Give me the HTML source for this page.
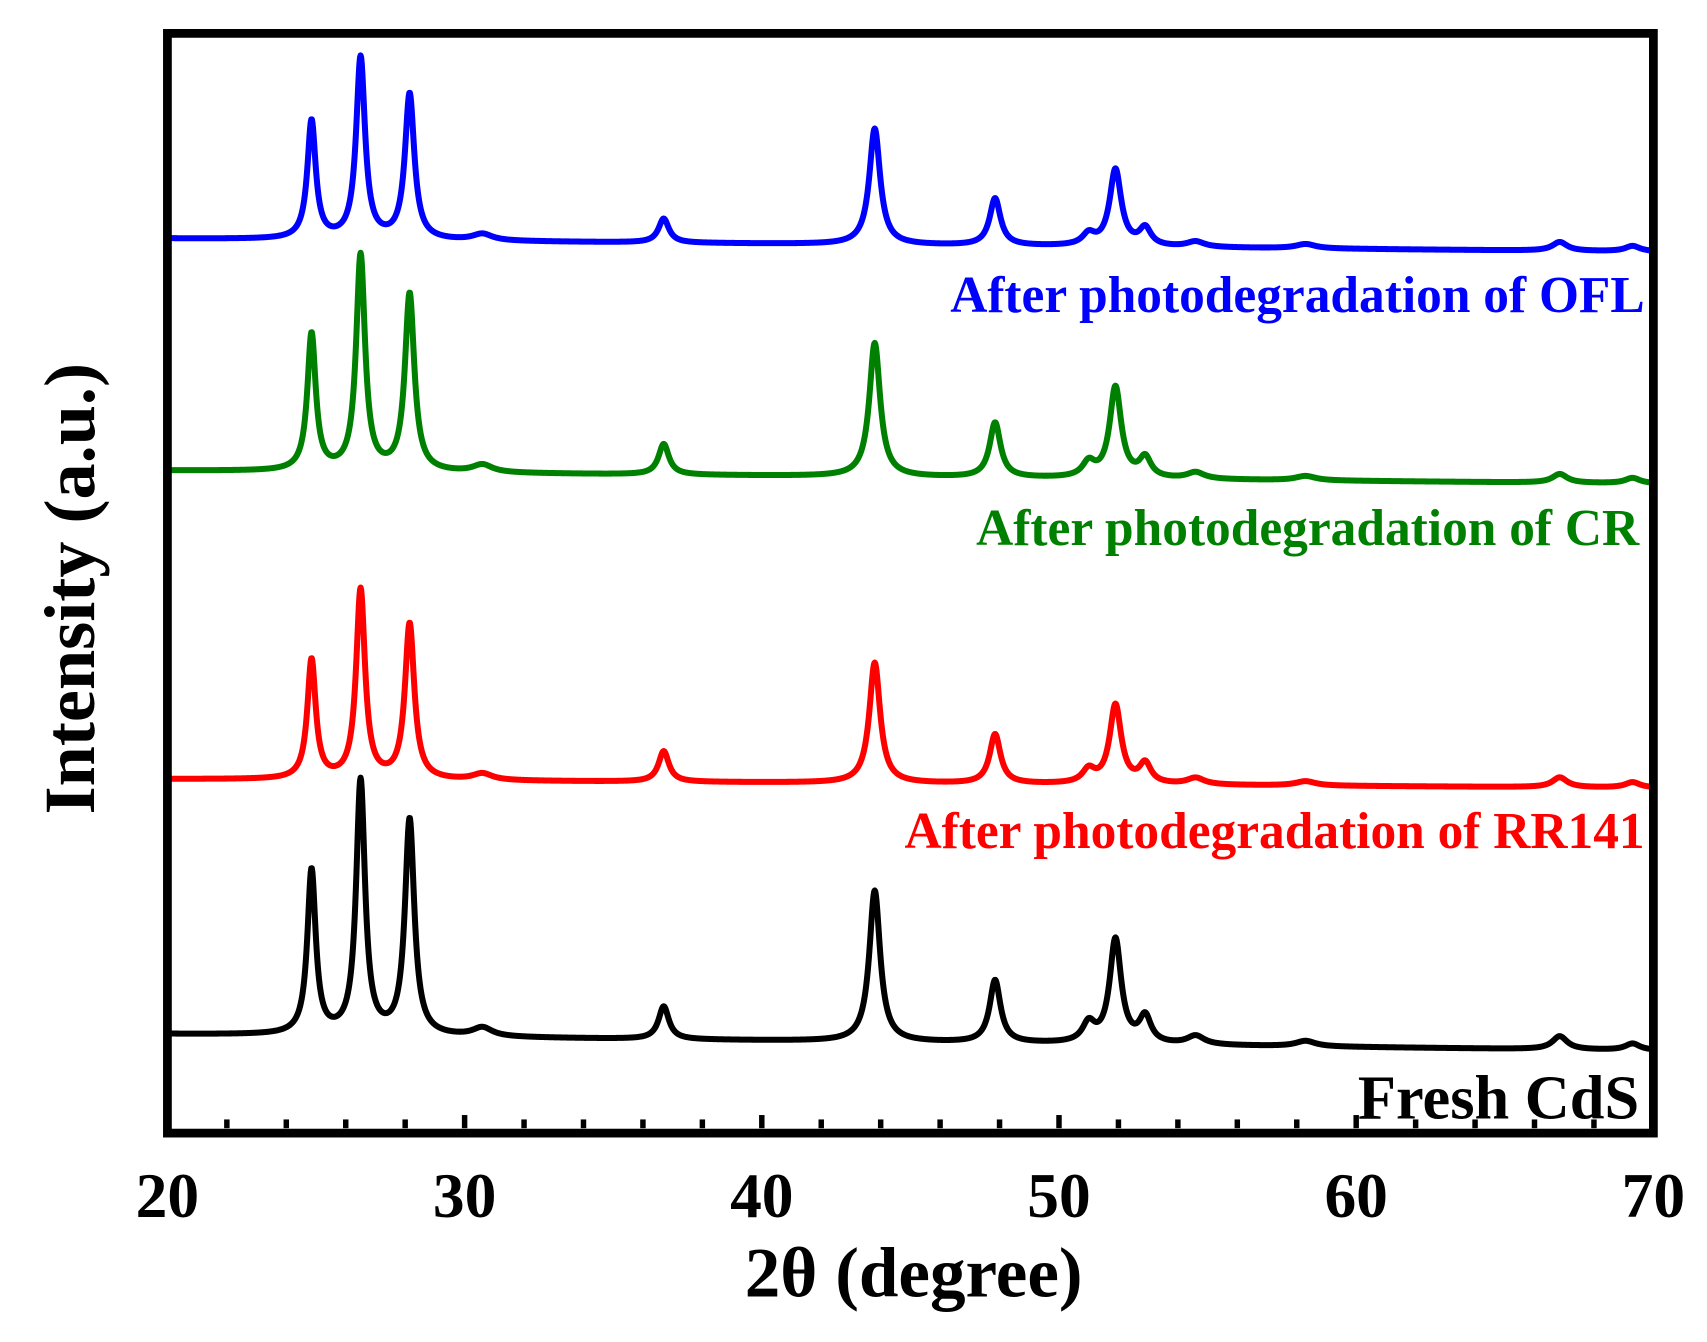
<!DOCTYPE html>
<html><head><meta charset="utf-8">
<style>
html,body{margin:0;padding:0;background:#fff;}
svg{display:block;}
text{font-family:"Liberation Serif",serif;font-weight:bold;}
</style></head>
<body>
<svg id="chart" width="1707" height="1342" viewBox="0 0 1560 1226.4" preserveAspectRatio="none" xmlns="http://www.w3.org/2000/svg">
<g id="series"></g>
<rect x="153" y="30.5" width="1358" height="1005" fill="none" stroke="#000" stroke-width="8"/>
<g id="ticks"></g>
<g id="ticklabels" font-size="58" text-anchor="middle"></g>
<text x="835" y="1185" font-size="65" text-anchor="middle">2θ (degree)</text>
<text transform="translate(86,538) rotate(-90)" font-size="66" text-anchor="middle">Intensity (a.u.)</text>
<text x="1503" y="285" font-size="47" text-anchor="end" fill="#0000ff">After photodegradation of OFL</text>
<text x="1498" y="498" font-size="47" text-anchor="end" fill="#008000">After photodegradation of CR</text>
<text x="1503" y="775" font-size="47" text-anchor="end" fill="#ff0000">After photodegradation of RR141</text>
<text x="1498" y="1022" font-size="57" text-anchor="end" fill="#000">Fresh CdS</text>
</svg>
<script>
// data
const peakPositions = [24.85, 26.5, 28.15, 30.6, 36.7, 43.8, 47.85, 51.0, 51.9, 52.9, 54.6, 58.3, 66.85, 69.3];
const peakWidths    = [0.34, 0.36, 0.38, 0.8, 0.42, 0.44, 0.44, 0.5, 0.47, 0.47, 0.7, 0.8, 0.6, 0.6];
const freshHeights  = [150, 232, 197, 8, 30, 138, 57, 17, 95, 24, 8, 5, 12, 6];
const rr141Heights  = [109, 173, 142, 6, 28, 110, 45, 12, 72, 18, 6, 4, 9, 5];
const crHeights     = [125, 197, 162, 7, 28, 122, 50, 13, 83, 18, 6, 4, 8, 5];
const oflHeights    = [108, 166, 133, 6, 22, 106, 43, 10, 70, 16, 5, 4, 8, 5];
const baseStart = [945, 712, 430, 218]; // fresh, rr141, cr, ofl
const baseEnd   = [960, 720, 442, 230];
const seriesColors = ['#000000', '#ff0000', '#008000', '#0000ff'];
const seriesNames = ['series-fresh-cds', 'series-rr141', 'series-cr', 'series-ofl'];
const xTicks = [20, 30, 40, 50, 60, 70];

const X0 = 153, X1 = 1511, xMin = 20, xMax = 70;
function xScale(v){ return X0 + (v - xMin) / (xMax - xMin) * (X1 - X0); }
function yScale(v, base){ return base - v; }

const NS = 'http://www.w3.org/2000/svg';
const g = document.getElementById('series');
const allHeights = [freshHeights, rr141Heights, crHeights, oflHeights];
allHeights.forEach((hs, si) => {
  let d = '';
  for (let t = 20; t <= 70.0001; t += 0.02) {
    let v = 0;
    for (let k = 0; k < peakPositions.length; k++) {
      const w = peakWidths[k] / 2;
      const dx = t - peakPositions[k];
      v += hs[k] * (w * w) / (dx * dx + w * w);
    }
    const base = baseStart[si] + (baseEnd[si] - baseStart[si]) * (t - 20) / 50;
    d += (d ? 'L' : 'M') + xScale(t).toFixed(2) + ' ' + yScale(v, base).toFixed(2);
  }
  const p = document.createElementNS(NS, 'path');
  p.setAttribute('d', d);
  p.setAttribute('fill', 'none');
  p.setAttribute('stroke', seriesColors[si]);
  p.setAttribute('stroke-width', '5.5');
  p.setAttribute('stroke-linejoin', 'round');
  
  
  g.appendChild(p);
});

const tg = document.getElementById('ticks');
for (let t = 22; t < 70; t += 2) {
  const l = document.createElementNS(NS, 'line');
  const x = xScale(t);
  l.setAttribute('x1', x); l.setAttribute('x2', x);
  l.setAttribute('y1', 1031); l.setAttribute('y2', t % 10 === 0 ? 1019 : 1023);
  l.setAttribute('stroke', '#000'); l.setAttribute('stroke-width', '5');
  
  
  tg.appendChild(l);
}
const lg = document.getElementById('ticklabels');
xTicks.forEach(t => {
  const tx = document.createElementNS(NS, 'text');
  tx.setAttribute('x', xScale(t));
  tx.setAttribute('y', 1112);
  tx.textContent = t;
  
  
  lg.appendChild(tx);
});
</script>
</body></html>
